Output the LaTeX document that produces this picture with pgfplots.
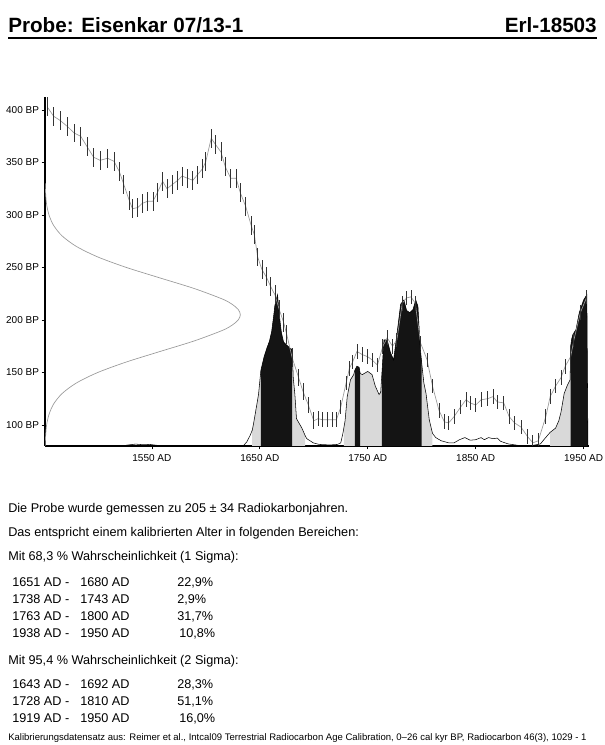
\documentclass[border=0pt]{standalone}
\usepackage{fontspec}
\setmainfont{Liberation Sans}
\usepackage{pgfplots}
\usepackage{pgfplotstable}
\pgfplotsset{compat=1.18}

% calibration curve: cal AD, radiocarbon age BP, error
\pgfplotstableread{
ad bp e
1453 403 9
1459 394 9
1465 390 9
1472 384 9
1478 378 9
1484 375 9
1490 365 9
1496 355 9
1502 352 9
1509 354 9
1515 351 9
1520 341 9
1524 329 9
1529 314 9
1532 306 9
1537 307 9
1541 311 9
1546 313 9
1551 313 9
1555 321 9
1560 332 9
1564 325 9
1569 329 9
1574 333 9
1578 337 9
1583 335 9
1588 333 9
1592 338 9
1597 344 9
1600 351 9
1605 373 9
1609 367 9
1614 360 9
1618 346 9
1623 335 9
1628 335 9
1632 321 9
1637 308 9
1642 290 9
1645 281 9
1648 260 9
1652 248 9
1656 241 9
1660 232 9
1664 224 9
1668 210 9
1672 198 9
1675 186 9
1680 164 9
1686 145 8
1690 132 8
1695 119 8
1700 104 8
1704 106 7
1708 105 7
1713 105 7
1717 105 7
1721 105 7
1725 117 7
1730 140 7
1733 154 7
1736 160 7
1740 170 7
1745 167 7
1750 165 7
1754 162 7
1759 157 7
1764 175 7
1768 183 7
1773 175 7
1777 181 7
1782 216 7
1786 221 7
1790 222 7
1794 216 7
1799 178 7
1805 162 7
1810 137 7
1816 114 7
1821 103 7
1825 102 7
1830 108 7
1836 117 7
1841 124 7
1845 121 7
1850 119 7
1855 124 7
1861 125 7
1866 127 7
1870 122 7
1876 121 7
1881 108 7
1886 102 7
1892 98 7
1898 89 7
1903 83 7
1908 85 7
1915 108 7
1919 127 7
1924 137 7
1929 145 7
1933 156 7
1938 165 7
1941 181 7
1947 207 7
1953 222 7
}\calib

% calibrated probability distribution (drawn in BP units above 80)
\pgfplotstableread{
ad p
1451 80
1522 80
1528 81
1535 81.8
1542 81.2
1548 81.5
1556 80.5
1565 80
1630 80
1635 80.5
1638 84
1641 90
1643 95
1644 100
1646 112
1648.8 129
1651 152
1654 165
1656.5 173
1659 180
1661 189
1663 205
1664 214
1666.4 224
1668.8 198
1670 188
1672 179
1675 176
1678 173
1680 172
1681 145
1682.5 129
1684 106
1689 97
1692 90
1693.5 87
1699.5 83
1705 81.5
1715 81
1722 81.5
1725 83
1727 92
1729 104
1731 127
1734 143
1737 148
1738 152
1740 156
1742 155
1743 149
1745 148
1750 151
1754 148
1757 137
1760.5 129
1762 131
1763.5 155
1765 181
1768 181
1771 169
1774 162
1777.5 190
1780.5 215
1783.5 219
1786 209
1789 207
1792 210
1794.5 219
1796.5 213
1798.5 175
1800 159
1802 140
1804 130
1807 105
1810 92
1813 88
1818 85
1825 83
1830 83
1835 86
1840 88
1845 85.5
1850 86
1855 88
1858 86
1862 88
1866 87
1870 87.5
1873 84.5
1880 82
1890 80.5
1900 80
1905 81
1910 82
1914 87
1919 93
1924 97
1927 104
1929 112
1932 130
1935 138
1937.5 143
1938 175
1939 182
1940 186
1943 191
1946 207
1950 219
1953 224
1954 80
}\dist

\definecolor{sigtwo}{gray}{0.85}
\definecolor{sigone}{gray}{0.08}
\definecolor{curve}{gray}{0.6}

\begin{document}
\begin{tikzpicture}[x=0.75pt,y=0.75pt]
\useasboundingbox (0,0) rectangle (604,745);

% header
\node[anchor=base west, inner sep=0, font=\bfseries\fontsize{15.5}{18}\selectfont] at (8,712) {Probe: Eisenkar 07/13-1};
\node[anchor=base east, inner sep=0, font=\bfseries\fontsize{15.5}{18}\selectfont] at (597,712) {Erl-18503};
\draw[line width=1pt] (8,707) -- (597,707);

\begin{axis}[
    at={(33.75pt,224.25pt)}, anchor=south west,
    scale only axis, width=408pt, height=261.5pt,
    xmin=1451, xmax=1955, ymin=80, ymax=412,
    axis x line=bottom, axis y line=left,
    axis line style={-, black, line width=0.8pt},
    xtick={1550,1650,1750,1850,1950},
    xticklabels={1550 AD,1650 AD,1750 AD,1850 AD,1950 AD},
    ytick={100,150,200,250,300,350,400},
    yticklabels={100 BP,150 BP,200 BP,250 BP,300 BP,350 BP,400 BP},
    tick align=outside, major tick length=2.5pt,
    tick style={black, line width=0.5pt},
    tick label style={font=\fontsize{7.5}{8.5}\selectfont},
    yticklabel style={xshift=1.5pt},
    no markers,
  ]
  % measured radiocarbon age
  \addplot[curve, line width=0.5pt, smooth] coordinates {
    (1451.2,80) (1451.6,90) (1452.5,100) (1454.7,110) (1459,120) (1466.9,130)
    (1480.1,140) (1499.9,150) (1526.4,160) (1557.6,170) (1589.1,180) (1615.2,190)
    (1624.3,195) (1630,200) (1632,205) (1630,210) (1624.3,215) (1615.2,220)
    (1589.1,230) (1557.6,240) (1526.4,250) (1499.9,260) (1480.1,270) (1466.9,280)
    (1459,290) (1454.7,300) (1452.5,310) (1451.6,320) (1451.2,330)
  };

  % 2 sigma ranges
  \addplot[fill=sigtwo, draw=none] coordinates {
    (1643,80) (1643,95) (1644,100) (1646,112) (1648.8,129) (1651,152) (1654,165)
    (1656.5,173) (1659,180) (1661,189) (1663,205) (1664,214) (1666.4,224) (1668.8,198)
    (1670,188) (1672,179) (1675,176) (1678,173) (1680,172) (1681,145) (1682.5,129)
    (1684,106) (1689,97) (1692,90) (1692,80)
  };
  \addplot[fill=sigtwo, draw=none] coordinates {
    (1728,80) (1728,98) (1729,104) (1731,127) (1734,143) (1737,148) (1738,152)
    (1740,156) (1742,155) (1743,149) (1745,148) (1750,151) (1754,148) (1757,137)
    (1760.5,129) (1762,131) (1763.5,155) (1765,181) (1768,181) (1771,169) (1774,162)
    (1777.5,190) (1780.5,215) (1783.5,219) (1786,209) (1789,207) (1792,210)
    (1794.5,219) (1796.5,213) (1798.5,175) (1800,159) (1802,140) (1804,130)
    (1807,105) (1810,92) (1810,80)
  };
  \addplot[fill=sigtwo, draw=none] coordinates {
    (1919,80) (1919,93) (1924,97) (1927,104) (1929,112) (1932,130) (1935,138)
    (1937.5,143) (1938,175) (1939,182) (1940,186) (1943,191) (1946,207) (1950,219)
    (1953,224) (1954,80)
  };

  % 1 sigma ranges
  \addplot[fill=sigone, draw=none] coordinates {
    (1651,80) (1651,152) (1654,165) (1656.5,173) (1659,180) (1661,189) (1663,205)
    (1664,214) (1666.4,224) (1668.8,198) (1670,188) (1672,179) (1675,176) (1678,173)
    (1680,172) (1680,80)
  };
  \addplot[fill=sigone, draw=none] coordinates {
    (1738,80) (1738,152) (1740,156) (1742,155) (1743,149) (1743,80)
  };
  \addplot[fill=sigone, draw=none] coordinates {
    (1763,80) (1763,147) (1763.5,155) (1765,181) (1768,181) (1771,169) (1774,162)
    (1777.5,190) (1780.5,215) (1783.5,219) (1786,209) (1789,207) (1792,210)
    (1794.5,219) (1796.5,213) (1798.5,175) (1800,159) (1800,80)
  };
  \addplot[fill=sigone, draw=none] coordinates {
    (1938,80) (1938,175) (1939,182) (1940,186) (1943,191) (1946,207) (1950,219)
    (1953,224) (1954,80)
  };

  % distribution outline
  \addplot[black, line width=0.4pt] table[x=ad, y=p] {\dist};

  % calibration curve
  \addplot[curve, line width=0.5pt,
    error bars/.cd, y dir=both, y explicit,
    error mark=none,
    error bar style={black!80, line width=0.6pt}]
    table[x=ad, y=bp, y error=e] {\calib};
\end{axis}

% text block
\begin{scope}[every node/.style={anchor=base west, inner sep=0, font=\fontsize{9.5}{11}\selectfont}]
\node at (8,232) {Die Probe wurde gemessen zu 205 ± 34 Radiokarbonjahren.};
\node at (8,208) {Das entspricht einem kalibrierten Alter in folgenden Bereichen:};
\node at (8,184) {Mit 68,3 \% Wahrscheinlichkeit (1 Sigma):};
\node at (12,158) {1651 AD -};  \node at (80,158) {1680 AD}; \node at (177,158) {22,9\%};
\node at (12,141) {1738 AD -};  \node at (80,141) {1743 AD}; \node at (177,141) {2,9\%};
\node at (12,124) {1763 AD -};  \node at (80,124) {1800 AD}; \node at (177,124) {31,7\%};
\node at (12,107) {1938 AD -};  \node at (80,107) {1950 AD}; \node at (179,107) {10,8\%};
\node at (8,80) {Mit 95,4 \% Wahrscheinlichkeit (2 Sigma):};
\node at (12,56) {1643 AD -};  \node at (80,56) {1692 AD}; \node at (177,56) {28,3\%};
\node at (12,39) {1728 AD -};  \node at (80,39) {1810 AD}; \node at (177,39) {51,1\%};
\node at (12,22) {1919 AD -};  \node at (80,22) {1950 AD}; \node at (179,22) {16,0\%};
\end{scope}
\node[anchor=base west, inner sep=0, font=\fontsize{7.15}{8.5}\selectfont] at (8,4)
  {Kalibrierungsdatensatz aus: Reimer et al., Intcal09 Terrestrial Radiocarbon Age Calibration, 0–26 cal kyr BP, Radiocarbon 46(3), 1029 - 1};
\end{tikzpicture}
\end{document}
